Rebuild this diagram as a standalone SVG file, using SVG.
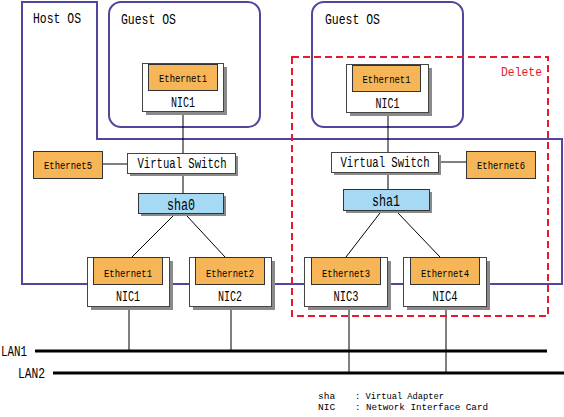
<svg xmlns="http://www.w3.org/2000/svg" width="564" height="417" viewBox="0 0 564 417">
<style>
text{font-family:"Liberation Mono","DejaVu Sans Mono",monospace;fill:#000}
.os{fill:none;stroke:#50469b;stroke-width:2}
.sh{fill:#8a8a8a}
.box{fill:#fff;stroke:#444;stroke-width:1}
.eth{fill:#f6b556;stroke:#333;stroke-width:1}
.sha{fill:#a6d9f4;stroke:#333;stroke-width:1}
.ln{stroke:#000;stroke-width:1;fill:none}
.lan{stroke:#000;stroke-width:3.2;fill:none}
.t14{font-size:14px}
.te{font-size:11px}
.tm{text-anchor:middle}
.del{fill:none;stroke:#e8192c;stroke-width:2;stroke-dasharray:7,4}
</style>

<g id="host-os">
<path class="os" d="M22,2 H97 V139 H562 V284 H22 Z"/>
<text class="t14" x="33" y="23" textLength="48" lengthAdjust="spacingAndGlyphs">Host OS</text>
</g>

<g id="guest-os-1">
<rect class="os" x="109" y="2" width="151" height="125" rx="12"/>
<text class="t14" x="121" y="24" textLength="55" lengthAdjust="spacingAndGlyphs">Guest OS</text>
</g>
<g id="guest-os-2">
<rect class="os" x="312" y="2" width="151" height="125" rx="12"/>
<text class="t14" x="325" y="24" textLength="55" lengthAdjust="spacingAndGlyphs">Guest OS</text>
</g>

<g id="connectors">
<line class="ln" x1="183" y1="111" x2="183" y2="153"/>
<line class="ln" x1="183" y1="173" x2="183" y2="193"/>
<line class="ln" x1="102" y1="164" x2="127" y2="164"/>
<line class="ln" x1="173" y1="216" x2="132" y2="257"/>
<line class="ln" x1="187" y1="216" x2="225" y2="257"/>
<line class="ln" x1="388" y1="112" x2="388" y2="152"/>
<line class="ln" x1="388" y1="172" x2="388" y2="189"/>
<line class="ln" x1="438" y1="162" x2="466" y2="162"/>
<line class="ln" x1="380" y1="213" x2="346" y2="257"/>
<line class="ln" x1="398" y1="213" x2="440" y2="257"/>
<line class="ln" x1="129" y1="306" x2="129" y2="350"/>
<line class="ln" x1="231" y1="306" x2="231" y2="350"/>
<line class="ln" x1="349" y1="306" x2="349" y2="372"/>
<line class="ln" x1="446" y1="306" x2="446" y2="372"/>
</g>

<g id="guest-nic1-left">
<rect class="sh" x="146" y="67" width="81" height="48"/>
<rect class="box" x="142.5" y="63.5" width="81" height="48"/>
<rect class="eth" x="148.5" y="64.5" width="69" height="26"/>
<text class="te tm" x="183" y="82" textLength="48" lengthAdjust="spacingAndGlyphs">Ethernet1</text>
<text class="t14 tm" x="183" y="107" textLength="24" lengthAdjust="spacingAndGlyphs">NIC1</text>
</g>
<g id="guest-nic1-right">
<rect class="sh" x="350" y="68" width="82" height="48"/>
<rect class="box" x="346.5" y="64.5" width="82" height="48"/>
<rect class="eth" x="352.5" y="65.5" width="68" height="26"/>
<text class="te tm" x="386.5" y="83" textLength="48" lengthAdjust="spacingAndGlyphs">Ethernet1</text>
<text class="t14 tm" x="387.5" y="108" textLength="24" lengthAdjust="spacingAndGlyphs">NIC1</text>
</g>

<g id="ethernet5">
<rect class="eth" x="33.5" y="151.5" width="69" height="27"/>
<text class="te tm" x="68" y="169" textLength="48" lengthAdjust="spacingAndGlyphs">Ethernet5</text>
</g>
<g id="vswitch-left">
<rect class="sh" x="130" y="156" width="108" height="20"/>
<rect class="box" x="127.5" y="153.5" width="108" height="20"/>
<text class="t14 tm" x="182" y="168" textLength="89" lengthAdjust="spacingAndGlyphs">Virtual Switch</text>
</g>
<g id="sha0">
<rect class="sh" x="141" y="196" width="85" height="20"/>
<rect class="sha" x="138.5" y="193.5" width="85" height="20"/>
<text class="tm" style="font-size:16px" x="181" y="210" textLength="28" lengthAdjust="spacingAndGlyphs">sha0</text>
</g>

<g id="vswitch-right">
<rect class="sh" x="334" y="155" width="107" height="20"/>
<rect class="box" x="331.5" y="152.5" width="107" height="20"/>
<text class="t14 tm" x="385" y="167" textLength="89" lengthAdjust="spacingAndGlyphs">Virtual Switch</text>
</g>
<g id="ethernet6">
<rect class="eth" x="466.5" y="151.5" width="69" height="27"/>
<text class="te tm" x="501" y="169" textLength="48" lengthAdjust="spacingAndGlyphs">Ethernet6</text>
</g>
<g id="sha1">
<rect class="sh" x="346" y="192" width="86" height="21"/>
<rect class="sha" x="343.5" y="189.5" width="86" height="21"/>
<text class="tm" style="font-size:16px" x="386" y="206" textLength="28" lengthAdjust="spacingAndGlyphs">sha1</text>
</g>

<g id="nic1">
<rect class="sh" x="91" y="261" width="82" height="49"/>
<rect class="box" x="87.5" y="257.5" width="82" height="49"/>
<rect class="eth" x="93.5" y="257.5" width="69" height="27"/>
<text class="te tm" x="128" y="277" textLength="48" lengthAdjust="spacingAndGlyphs">Ethernet1</text>
<text class="t14 tm" x="128" y="301" textLength="24" lengthAdjust="spacingAndGlyphs">NIC1</text>
</g>
<g id="nic2">
<rect class="sh" x="193" y="261" width="82" height="49"/>
<rect class="box" x="189.5" y="257.5" width="82" height="49"/>
<rect class="eth" x="195.5" y="257.5" width="69" height="27"/>
<text class="te tm" x="230" y="277" textLength="48" lengthAdjust="spacingAndGlyphs">Ethernet2</text>
<text class="t14 tm" x="230" y="301" textLength="24" lengthAdjust="spacingAndGlyphs">NIC2</text>
</g>
<g id="nic3">
<rect class="sh" x="308" y="261" width="83" height="49"/>
<rect class="box" x="304.5" y="257.5" width="83" height="49"/>
<rect class="eth" x="311.5" y="257.5" width="69" height="27"/>
<text class="te tm" x="346" y="277" textLength="48" lengthAdjust="spacingAndGlyphs">Ethernet3</text>
<text class="t14 tm" x="346" y="301" textLength="25" lengthAdjust="spacingAndGlyphs">NIC3</text>
</g>
<g id="nic4">
<rect class="sh" x="407" y="261" width="83" height="49"/>
<rect class="box" x="403.5" y="257.5" width="83" height="49"/>
<rect class="eth" x="410.5" y="257.5" width="69" height="27"/>
<text class="te tm" x="445" y="277" textLength="48" lengthAdjust="spacingAndGlyphs">Ethernet4</text>
<text class="t14 tm" x="445" y="301" textLength="25" lengthAdjust="spacingAndGlyphs">NIC4</text>
</g>

<g id="lan1">
<line class="lan" x1="35" y1="351" x2="547" y2="351"/>
<text class="t14" x="1" y="356" textLength="26" lengthAdjust="spacingAndGlyphs">LAN1</text>
</g>
<g id="lan2">
<line class="lan" x1="53" y1="373" x2="564" y2="373"/>
<text class="t14" x="18" y="378" textLength="27" lengthAdjust="spacingAndGlyphs">LAN2</text>
</g>

<g id="delete-area">
<rect class="del" x="292" y="57" width="256" height="259"/>
<text style="font-size:13px;fill:#e8192c" x="501" y="76" textLength="41" lengthAdjust="spacingAndGlyphs">Delete</text>
</g>

<g id="legend" style="font-size:9.5px">
<text x="318" y="399" style="font-size:9.5px">sha</text>
<text x="355" y="399" style="font-size:9.5px" textLength="89" lengthAdjust="spacingAndGlyphs">: Virtual Adapter</text>
<text x="318" y="410" style="font-size:9.5px">NIC</text>
<text x="355" y="410" style="font-size:9.5px" textLength="133" lengthAdjust="spacingAndGlyphs">: Network Interface Card</text>
</g>
</svg>
